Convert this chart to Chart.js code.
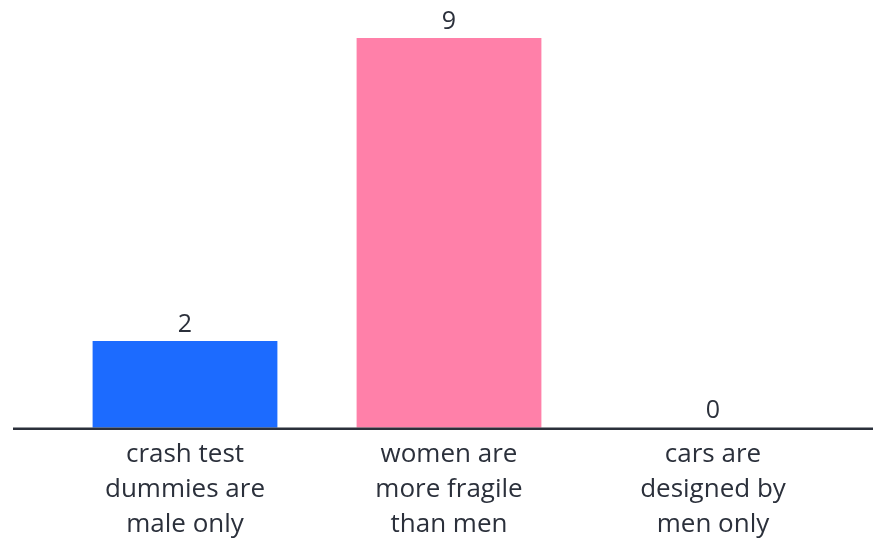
<!DOCTYPE html>
<html>
<head>
<meta charset="utf-8">
<script src="https://cdn.jsdelivr.net/npm/chart.js@4"></script>
<style>
  html, body { margin: 0; padding: 0; background: #fff; }
  #wrap { width: 873px; height: 541px; }
</style>
</head>
<body>
<div id="wrap"><canvas id="chart"></canvas></div>
<script>
var categories = [
    ["crash test", "dummies are", "male only"],
    ["women are", "more fragile", "than men"],
    ["cars are", "designed by", "men only"]
];
var answers = [2, 9, 0];
var barColors = ["#1c6bff", "#ff80a9", "#cccccc"];

var textColor = "#2b303b";
var fontFamily = "'Open Sans', 'Noto Sans', sans-serif";

// value labels above the bars + the long baseline
var extras = {
    id: 'extras',
    afterDatasetsDraw: function(chart) {
        var ctx = chart.ctx;
        var meta = chart.getDatasetMeta(0);
        var yScale = chart.scales.y;
        var base = yScale.getPixelForValue(0);

        ctx.save();
        ctx.strokeStyle = textColor;
        ctx.lineWidth = 2.5;
        ctx.beginPath();
        ctx.moveTo(13, base + 1);
        ctx.lineTo(873, base + 1);
        ctx.stroke();

        ctx.fillStyle = textColor;
        ctx.font = "25px " + fontFamily;
        ctx.textAlign = "center";
        ctx.textBaseline = "bottom";
        meta.data.forEach(function(bar, i) {
            ctx.fillText(String(answers[i]), bar.x, bar.y - 4);
        });
        ctx.restore();
    }
};

new Chart(document.getElementById('chart').getContext('2d'), {
    type: 'bar',
    data: {
        labels: categories,
        datasets: [{
            data: answers,
            backgroundColor: barColors,
            borderWidth: 0,
            barPercentage: 0.7,
            categoryPercentage: 1.0
        }]
    },
    options: {
        responsive: true,
        maintainAspectRatio: false,
        animation: false,
        layout: {
            padding: { top: 38, left: 53, right: 28, bottom: -10 }
        },
        plugins: {
            legend: { display: false },
            tooltip: { enabled: false }
        },
        scales: {
            y: {
                display: false,
                min: 0,
                max: 9
            },
            x: {
                grid: { display: false, drawTicks: false },
                border: { display: false },
                ticks: {
                    color: textColor,
                    padding: 9,
                    maxRotation: 0,
                    font: { family: fontFamily, size: 26, lineHeight: 1.35 }
                }
            }
        }
    },
    plugins: [extras]
});
</script>
</body>
</html>
